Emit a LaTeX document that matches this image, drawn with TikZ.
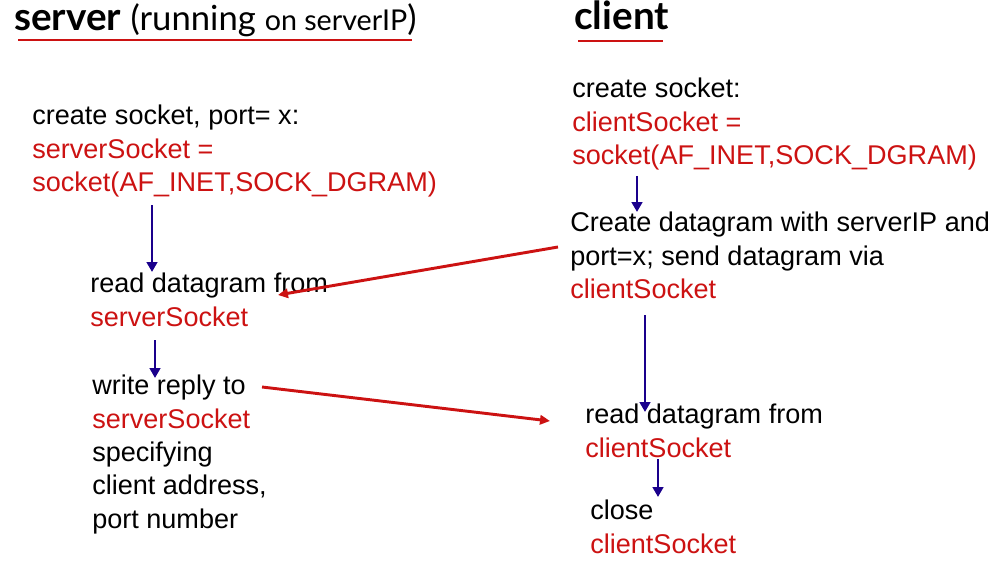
\documentclass[tikz,border=0pt]{standalone}
\usepackage{xcolor}
\usepackage{fontspec}
\setmainfont{Liberation Sans}
\newfontfamily\headfont{Lato}
\usepackage{tikz}
\usetikzlibrary{arrows.meta}

\definecolor{sockred}{RGB}{204,18,18}
\definecolor{flowblue}{RGB}{26,0,140}

\begin{document}
\begin{tikzpicture}[x=0.75pt,y=-0.75pt,
    step text/.style={anchor=north west,inner sep=0pt,align=left,
        font=\fontsize{20.3}{25}\selectfont},
    flow/.style={draw=flowblue,line width=2.2pt,-{Triangle[length=7.5pt,width=8pt]}},
    msg/.style={draw=sockred,line width=2.2pt,-{Triangle[length=7.5pt,width=7pt]}},
    headline/.style={draw=sockred,line width=1.5pt}]
    \useasboundingbox (0,0) rectangle (992,574);

    % headings
    \node[anchor=base west,inner sep=0pt] (srvHead) at (14,31)
        {\headfont\fontsize{29}{32}\selectfont\bfseries server
         \fontsize{26}{30}\selectfont\mdseries(running
         \fontsize{21.5}{24}\selectfont on serverIP\fontsize{26}{30}\selectfont)};
    \node[anchor=base west,inner sep=0pt] (cliHead) at (574,30)
        {\headfont\fontsize{29}{32}\selectfont\bfseries client};
    \draw[headline] ([shift={(4,9)}]srvHead.base west) -- ([shift={(-5,9)}]srvHead.base east);% underline
    \draw[headline] ([shift={(4,11)}]cliHead.base west) -- ([shift={(-6,11)}]cliHead.base east);% underline

    % server side
    \node[step text] (srvMake) at (32,105) {create socket, port= x:\\
        \textcolor{sockred}{serverSocket =}\\
        \textcolor{sockred}{socket(AF\_INET,SOCK\_DGRAM)}};
    \node[step text] (srvRead) at (90,273) {read datagram from\\
        \textcolor{sockred}{serverSocket}};
    \node[step text] (srvReply) at (92,375) {write reply to\\
        \textcolor{sockred}{serverSocket}\\
        specifying\\
        client address,\\
        port number};

    % client side
    \node[step text] (cliMake) at (572,78) {create socket:\\
        \textcolor{sockred}{clientSocket =}\\
        \textcolor{sockred}{socket(AF\_INET,SOCK\_DGRAM)}};
    \node[step text] (cliSend) at (570,212) {Create datagram with serverIP and\\
        port=x; send datagram via\\
        \textcolor{sockred}{clientSocket}};
    \node[step text] (cliRead) at (585,404) {read datagram from\\
        \textcolor{sockred}{clientSocket}};
    \node[step text] (cliClose) at (590,500) {close\\
        \textcolor{sockred}{clientSocket}};

    % local steps
    \draw[flow] ([shift={(120,100)}]srvMake.north west) -- ([shift={(62,-1)}]srvRead.north west);
    \draw[flow] ([shift={(65,67)}]srvRead.north west) -- ([shift={(63,3)}]srvReply.north west);
    \draw[flow] ([shift={(65,98)}]cliMake.north west) -- ([shift={(67,0)}]cliSend.north west);
    \draw[flow] ([shift={(75,103)}]cliSend.north west) -- ([shift={(60,8)}]cliRead.north west);
    \draw[flow] ([shift={(73,55)}]cliRead.north west) -- ([shift={(68,-3)}]cliClose.north west);

    % datagrams
    \draw[msg] ([shift={(-12,35)}]cliSend.north west) -- ([shift={(188,22)}]srvRead.north west);
    \draw[msg] ([shift={(170,12)}]srvReply.north west) -- ([shift={(-35,17)}]cliRead.north west);

\end{tikzpicture}
\end{document}
